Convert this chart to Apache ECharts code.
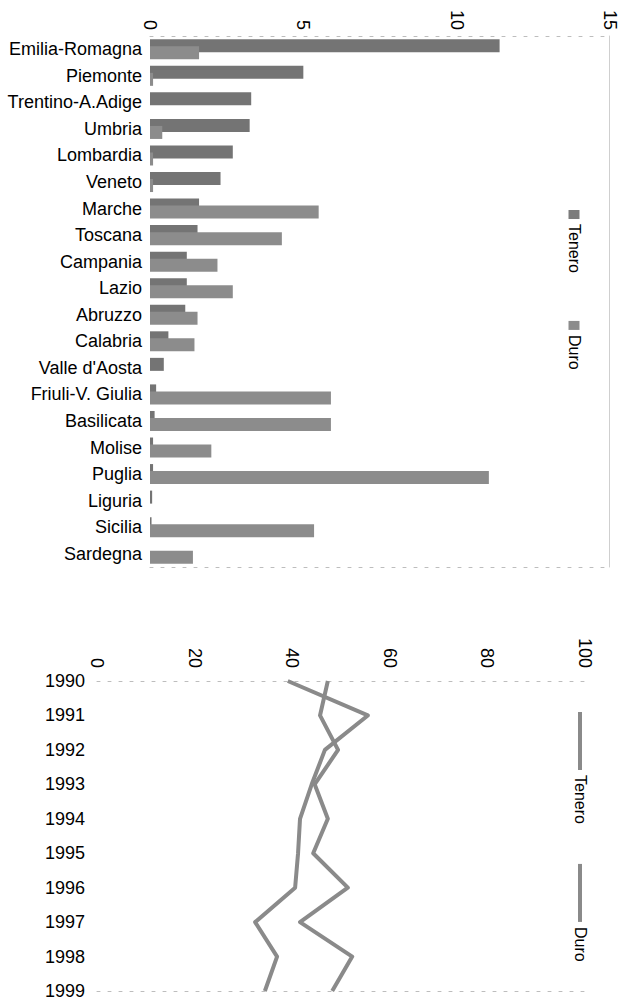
<!DOCTYPE html>
<html>
<head>
<meta charset="utf-8">
<script src="https://cdn.jsdelivr.net/npm/echarts@6/dist/echarts.min.js"></script>
<style>
html,body{margin:0;padding:0;width:629px;height:1006px;overflow:hidden;background:#fff;}
#chart{position:absolute;left:0;top:0;width:1006px;height:629px;transform-origin:0 0;transform:translateX(629px) rotate(90deg);}
</style>
</head>
<body>
<div id="chart"></div>
<script>
// ---- data ----
const regions = ['Emilia-Romagna','Piemonte','Trentino-A.Adige','Umbria','Lombardia','Veneto','Marche','Toscana','Campania','Lazio','Abruzzo','Calabria',"Valle d'Aosta",'Friuli-V. Giulia','Basilicata','Molise','Puglia','Liguria','Sicilia','Sardegna'];
const tenero = [11.4, 5.0, 3.3, 3.25, 2.7, 2.3, 1.6, 1.55, 1.2, 1.2, 1.15, 0.6, 0.45, 0.2, 0.15, 0.1, 0.1, 0.07, 0.05, 0];
const duro   = [1.6, 0.1, 0, 0.4, 0.1, 0.1, 5.5, 4.3, 2.2, 2.7, 1.55, 1.45, 0, 5.9, 5.9, 2.0, 11.05, 0, 5.35, 1.4];
const barTicks = [0, 5, 10, 15];

const years = ['1990','1991','1992','1993','1994','1995','1996','1997','1998','1999'];
const teneroTrend = [39.1, 55.5, 46.7, 44.0, 41.6, 41.2, 40.6, 32.4, 36.9, 34.4];
const duroTrend   = [47.3, 45.7, 49.4, 44.6, 47.3, 44.3, 51.4, 41.6, 52.3, 48.2];
const lineTicks = [0, 20, 40, 60, 80, 100];
const seriesNames = ['Tenero', 'Duro'];

// ---- chart ----
const FONT = "'Liberation Sans', Arial, sans-serif";
const dotted = {show:true, onZero:false, lineStyle:{color:'#bdbdbd', width:1, type:[3,8]}};
const lbl = {color:'#000', fontSize:18, fontFamily:FONT};
const tickRange = t => ({min:t[0], max:t[t.length-1], interval:t[1]-t[0]});

const chart = echarts.init(document.getElementById('chart'), null, {renderer:'svg'});
chart.setOption({
  animation:false,
  backgroundColor:'#fff',
  textStyle:{fontFamily:FONT},
  grid:[
    {left:36, top:19, width:531, height:460},
    {left:681, top:44, width:310, height:488}
  ],
  xAxis:[
    {gridIndex:0, type:'category', data:regions, position:'bottom',
     axisLine:{show:false, onZero:false}, axisTick:{show:false},
     axisLabel:Object.assign({rotate:90, margin:8, interval:0}, lbl)},
    {gridIndex:0, type:'category', data:regions, position:'top',
     axisLine:{show:true, onZero:false, lineStyle:{color:'#cfcfcf', width:1}},
     axisTick:{show:false}, axisLabel:{show:false}},
    {gridIndex:1, type:'category', data:years, boundaryGap:false, position:'bottom',
     axisLine:{show:false, onZero:false}, axisTick:{show:false},
     axisLabel:Object.assign({rotate:90, margin:12, interval:0}, lbl)}
  ],
  yAxis:[
    Object.assign({gridIndex:0, type:'value', position:'left', axisLine:dotted,
     axisTick:{show:false}, splitLine:{show:false},
     axisLabel:Object.assign({margin:6}, lbl)}, tickRange(barTicks)),
    Object.assign({gridIndex:0, type:'value', position:'right', axisLine:dotted,
     axisTick:{show:false}, splitLine:{show:false}, axisLabel:{show:false}}, tickRange(barTicks)),
    Object.assign({gridIndex:1, type:'value', position:'left', axisLine:dotted,
     axisTick:{show:false}, splitLine:{show:false},
     axisLabel:Object.assign({margin:13}, lbl)}, tickRange(lineTicks)),
    Object.assign({gridIndex:1, type:'value', position:'right', axisLine:dotted,
     axisTick:{show:false}, splitLine:{show:false}, axisLabel:{show:false}}, tickRange(lineTicks))
  ],
  legend:[
    {left:210, top:47, orient:'horizontal', padding:0, itemWidth:9, itemHeight:11, itemGap:48,
     selectedMode:false,
     textStyle:{color:'#000', fontSize:16, fontFamily:FONT},
     data:[{name:seriesNames[0], icon:'rect', itemStyle:{color:'#7c7c7c'}},
           {name:seriesNames[1], icon:'rect', itemStyle:{color:'#8c8c8c'}}]},
    {left:712, top:41, orient:'horizontal', padding:0, itemWidth:58, itemHeight:4, itemGap:40,
     selectedMode:false,
     textStyle:{color:'#000', fontSize:16, fontFamily:FONT},
     data:[{name:seriesNames[0], icon:'rect', itemStyle:{color:'#8a8a8a'}},
           {name:seriesNames[1], icon:'rect', itemStyle:{color:'#8a8a8a'}}]}
  ],
  series:[
    {name:seriesNames[0], type:'bar', xAxisIndex:0, yAxisIndex:0, data:tenero,
     barWidth:13, barGap:'-46%', itemStyle:{color:'#747474'}},
    {name:seriesNames[1], type:'bar', xAxisIndex:0, yAxisIndex:0, data:duro,
     barWidth:13, barGap:'-46%', itemStyle:{color:'#8c8c8c'}},
    {name:seriesNames[0], type:'line', xAxisIndex:2, yAxisIndex:2, data:teneroTrend,
     symbol:'none', lineStyle:{color:'#8a8a8a', width:4, join:'round'}, itemStyle:{color:'#8a8a8a'}},
    {name:seriesNames[1], type:'line', xAxisIndex:2, yAxisIndex:2, data:duroTrend,
     symbol:'none', lineStyle:{color:'#8a8a8a', width:4, join:'round'}, itemStyle:{color:'#8a8a8a'}}
  ]
});
</script>
</body>
</html>
